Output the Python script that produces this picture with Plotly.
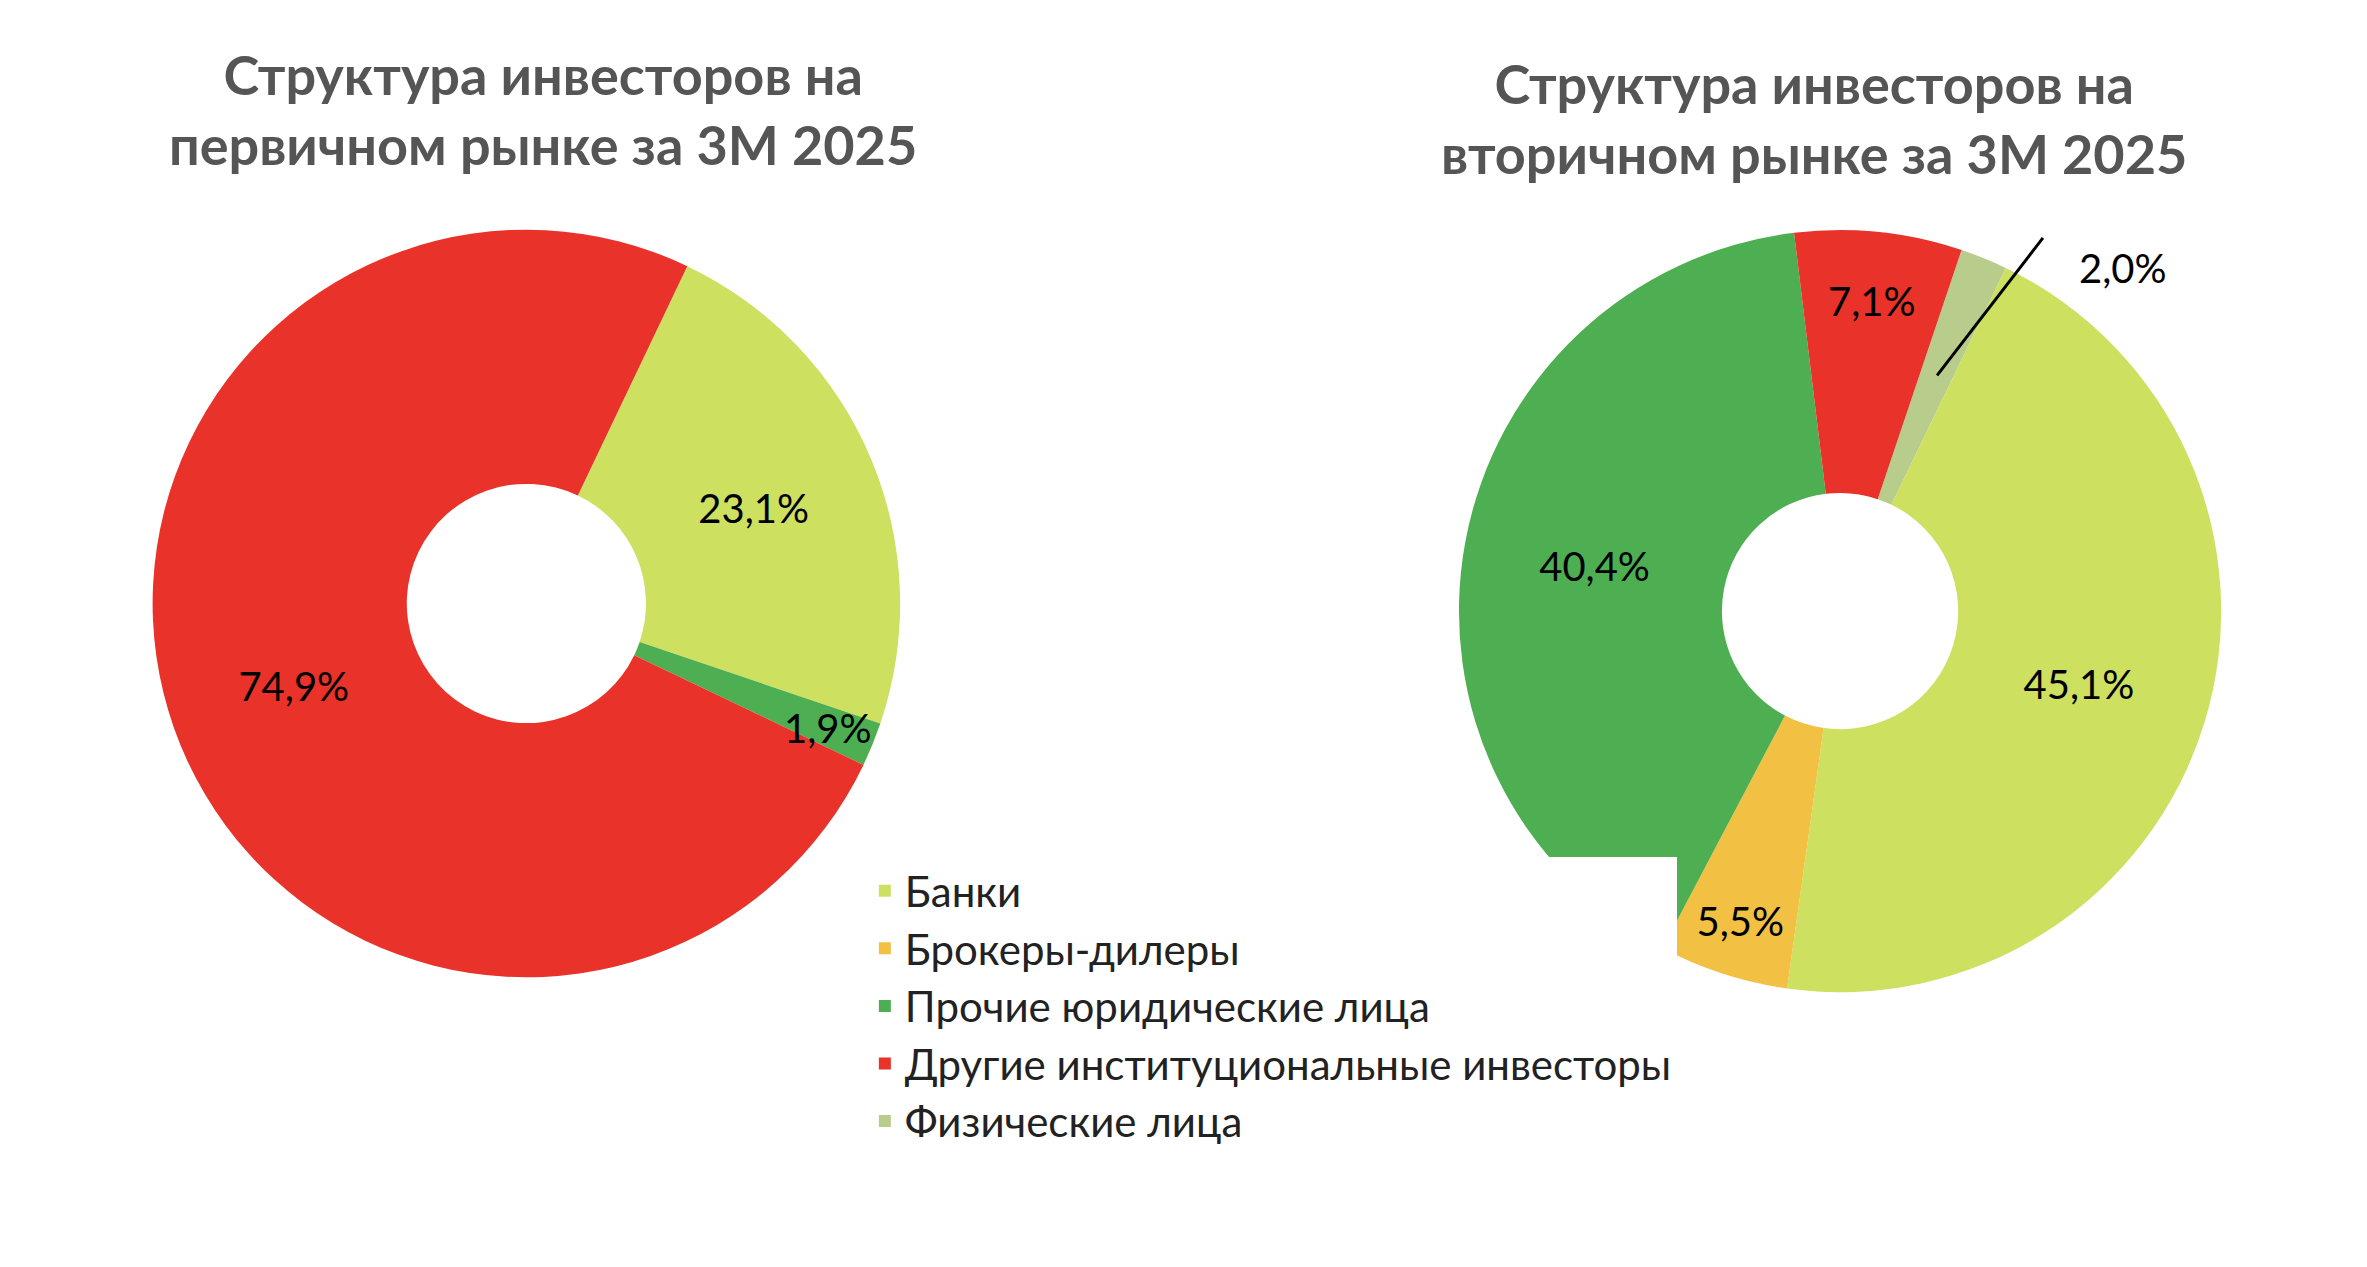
import plotly.graph_objects as go

labels = ["Банки", "Брокеры-дилеры", "Прочие юридические лица",
          "Другие институциональные инвесторы", "Физические лица"]
colors = ["#CDE060", "#F2C043", "#4DAE52", "#E8322A", "#B8CC8C"]

primary_vals = [23.1, 0, 1.9, 74.9, 0]
primary_text = ["23,1%", "", "", "74,9%", ""]

sec_labels = ["Физические лица", "Банки", "Брокеры-дилеры",
              "Прочие юридические лица", "Другие институциональные инвесторы"]
sec_vals = [2.0, 45.1, 5.5, 40.4, 7.1]
sec_text = ["", "45,1%", "5,5%", "40,4%", "7,1%"]
cmap = dict(zip(labels, colors))

font = "Lato"
fig = go.Figure()
fig.add_trace(go.Pie(
    labels=labels, values=primary_vals, text=primary_text, textinfo="text",
    sort=False, direction="clockwise", rotation=25.5, hole=0.32,
    marker=dict(colors=colors), textposition="inside",
    insidetextorientation="horizontal",
    textfont=dict(size=40, color="black", family=font),
    domain=dict(x=[0.061, 0.377], y=[0.235, 0.825]), hoverinfo="label+percent"))
fig.add_trace(go.Pie(
    labels=sec_labels, values=sec_vals, text=sec_text, textinfo="text",
    sort=False, direction="clockwise", rotation=18.6, hole=0.31,
    marker=dict(colors=[cmap[l] for l in sec_labels]), textposition="inside",
    insidetextorientation="horizontal",
    textfont=dict(size=40, color="black", family=font),
    domain=dict(x=[0.613, 0.935], y=[0.223, 0.825]), hoverinfo="label+percent"))

ann = [
    dict(x=0.226, y=0.975, text="Структура инвесторов на<br>первичном рынке за 3М 2025"),
    dict(x=0.763, y=0.968, text="Структура инвесторов на<br>вторичном рынке за 3М 2025"),
]
annotations = [dict(xref="paper", yref="paper", x=a["x"], y=a["y"], text="<b>" + a["text"] + "</b>",
                    showarrow=False, xanchor="center", yanchor="top",
                    font=dict(size=54, color="#555555", family=font)) for a in ann]
annotations.append(dict(xref="paper", yref="paper", x=0.327, y=0.432, text="1,9%",
                        showarrow=False, font=dict(size=40, color="black", family=font)))
annotations.append(dict(xref="paper", yref="paper", x=0.815, y=0.71, ax=107, ay=-139,
                        text="", showarrow=True,
                        arrowhead=0, arrowwidth=3, arrowcolor="black"))
annotations.append(dict(xref="paper", yref="paper", x=0.874, y=0.815, text="2,0%",
                        xanchor="left", showarrow=False,
                        font=dict(size=40, color="black", family=font)))

fig.update_layout(
    width=2367, height=1267, margin=dict(l=0, r=0, t=0, b=0),
    paper_bgcolor="white", annotations=annotations,
    uniformtext=dict(minsize=40, mode="show"),
    legend=dict(x=0.362, y=0.33, xanchor="left", yanchor="top",
                font=dict(size=42, color="#222", family=font),
                traceorder="normal", tracegroupgap=0, itemwidth=30),
)
fig.write_html("out.html")
